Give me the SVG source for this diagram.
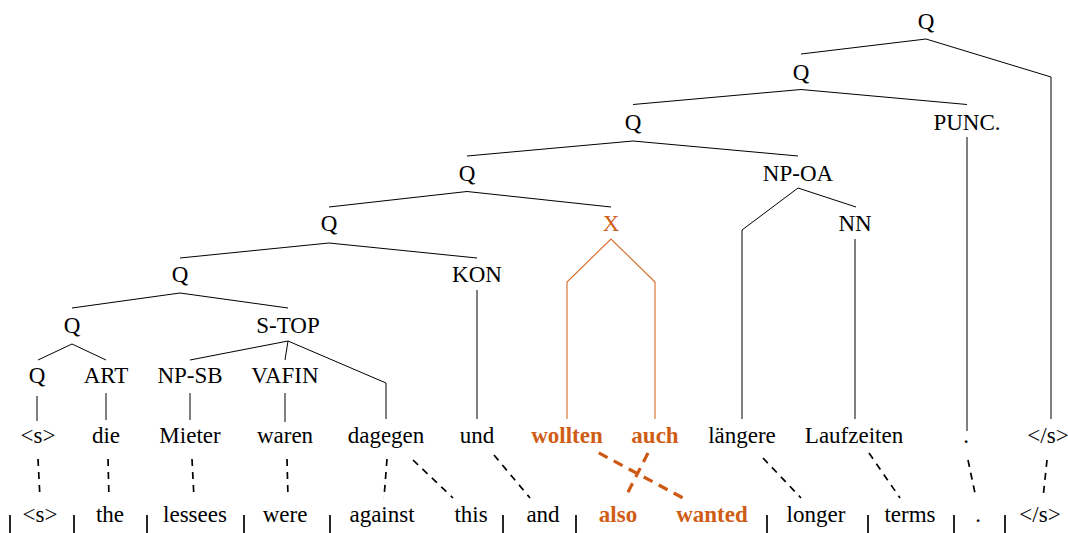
<svg xmlns="http://www.w3.org/2000/svg" width="1068" height="533" viewBox="0 0 1068 533" font-family="Liberation Serif, DejaVu Serif, serif">
<style>
text { font-size: 23px; text-anchor: middle; fill: #000; }
.hl { fill: #CF5D15; font-weight: bold; }
.xl { fill: #CF5D15; }
.edge { stroke: #000; stroke-width: 1; fill: none; }
.oedge { stroke: #D86A28; stroke-width: 1.1; fill: none; }
.al { stroke: #000; stroke-width: 1.7; stroke-dasharray: 7 6; fill: none; }
.oal { stroke: #CC5A14; stroke-width: 3.2; stroke-dasharray: 10 7; fill: none; }
.tick { stroke: #000; stroke-width: 1.7; }
</style>
<rect width="1068" height="533" fill="#fff"/>
<g id="connectors">
  <polyline class="edge" points="801,54 926,39 1051,77 1051,419"/>
  <polyline class="edge" points="633,104.5 801,89.5 967,104.5"/>
  <line class="edge" x1="967" y1="137" x2="967" y2="431"/>
  <polyline class="edge" points="467,156 633,141 798,156"/>
  <polyline class="edge" points="329,207 467,191.5 611,207"/>
  <polyline class="edge" points="742,419 742,230 798,188 856,207"/>
  <line class="edge" x1="855" y1="239" x2="855" y2="419"/>
  <polyline class="oedge" points="567,419 567,282 611,239 655,282 655,419"/>
  <polyline class="edge" points="180,258 329,243 477,258"/>
  <line class="edge" x1="477" y1="290" x2="477" y2="419"/>
  <polyline class="edge" points="72,308 180,293 288,308"/>
  <polyline class="edge" points="190,360 288,341 386,383 386,419"/>
  <line class="edge" x1="288" y1="341" x2="285" y2="360"/>
  <polyline class="edge" points="38,360 72,344 106,360"/>
  <line class="edge" x1="37" y1="396" x2="37" y2="421"/>
  <line class="edge" x1="106" y1="393" x2="106" y2="420"/>
  <line class="edge" x1="190" y1="393" x2="190" y2="420"/>
  <line class="edge" x1="285" y1="393" x2="285" y2="422"/>
  <line class="al" x1="38" y1="459" x2="40" y2="498"/>
  <line class="al" x1="108" y1="459" x2="109" y2="498"/>
  <line class="al" x1="192" y1="459" x2="194" y2="498"/>
  <line class="al" x1="287" y1="459" x2="288" y2="498"/>
  <line class="al" x1="387" y1="459" x2="384" y2="498"/>
  <line class="al" x1="413" y1="460" x2="453" y2="498"/>
  <line class="al" x1="494" y1="455" x2="530" y2="498"/>
  <line class="al" x1="763" y1="458" x2="801" y2="498"/>
  <line class="al" x1="869" y1="453" x2="900" y2="498"/>
  <line class="al" x1="968" y1="460" x2="976" y2="498"/>
  <line class="al" x1="1047" y1="460" x2="1043" y2="498"/>
  <line class="oal" x1="597" y1="452" x2="683" y2="498" stroke-dashoffset="15"/>
  <line class="oal" x1="648" y1="453" x2="625" y2="498"/>
  <line class="tick" x1="10" y1="515" x2="10" y2="533"/>
  <line class="tick" x1="74" y1="515" x2="74" y2="533"/>
  <line class="tick" x1="147" y1="515" x2="147" y2="533"/>
  <line class="tick" x1="244" y1="515" x2="244" y2="533"/>
  <line class="tick" x1="330" y1="515" x2="330" y2="533"/>
  <line class="tick" x1="503" y1="515" x2="503" y2="533"/>
  <line class="tick" x1="576" y1="515" x2="576" y2="533"/>
  <line class="tick" x1="767" y1="515" x2="767" y2="533"/>
  <line class="tick" x1="868" y1="515" x2="868" y2="533"/>
  <line class="tick" x1="954" y1="515" x2="954" y2="533"/>
  <line class="tick" x1="1005" y1="515" x2="1005" y2="533"/>
</g>
<g id="tree">
  <g id="n-q1"><text x="926" y="29">Q</text></g>
  <g id="n-q2"><text x="801" y="79.5">Q</text></g>
  <g id="n-q3"><text x="633" y="130">Q</text></g>
  <g id="n-punc"><text x="967" y="130">PUNC.</text></g>
  <g id="n-q4"><text x="467" y="180.5">Q</text></g>
  <g id="n-npoa"><text x="798" y="180.5">NP-OA</text></g>
  <g id="n-q5"><text x="329" y="231">Q</text></g>
  <g id="n-x"><text class="xl" x="611" y="231">X</text></g>
  <g id="n-nn"><text x="855" y="231">NN</text></g>
  <g id="n-q6"><text x="180" y="282">Q</text></g>
  <g id="n-kon"><text x="477" y="282">KON</text></g>
  <g id="n-q7"><text x="72" y="332.5">Q</text></g>
  <g id="n-stop"><text x="288" y="332.5">S-TOP</text></g>
  <g id="n-q8"><text x="37" y="383">Q</text></g>
  <g id="n-art"><text x="106" y="383">ART</text></g>
  <g id="n-npsb"><text x="190" y="383">NP-SB</text></g>
  <g id="n-vafin"><text x="285" y="383">VAFIN</text></g>
</g>
<g id="source">
  <g id="s0"><text x="38" y="443">&lt;s&gt;</text></g>
  <g id="s1"><text x="106" y="443">die</text></g>
  <g id="s2"><text x="190" y="443">Mieter</text></g>
  <g id="s3"><text x="285" y="443">waren</text></g>
  <g id="s4"><text x="386" y="443">dagegen</text></g>
  <g id="s5"><text x="477" y="443">und</text></g>
  <g id="s6"><text class="hl" x="567" y="443">wollten</text></g>
  <g id="s7"><text class="hl" x="655" y="443">auch</text></g>
  <g id="s8"><text x="742" y="443">längere</text></g>
  <g id="s9"><text x="854" y="443">Laufzeiten</text></g>
  <g id="s10"><text x="966" y="443">.</text></g>
  <g id="s11"><text x="1048" y="443">&lt;/s&gt;</text></g>
</g>
<g id="target">
  <g id="t0"><text x="40" y="522">&lt;s&gt;</text></g>
  <g id="t1"><text x="110" y="522">the</text></g>
  <g id="t2"><text x="195" y="522">lessees</text></g>
  <g id="t3"><text x="285" y="522">were</text></g>
  <g id="t4"><text x="382" y="522">against</text></g>
  <g id="t5"><text x="471" y="522">this</text></g>
  <g id="t6"><text x="543" y="522">and</text></g>
  <g id="t7"><text class="hl" x="618" y="522">also</text></g>
  <g id="t8"><text class="hl" x="712" y="522">wanted</text></g>
  <g id="t9"><text x="816" y="522">longer</text></g>
  <g id="t10"><text x="910" y="522">terms</text></g>
  <g id="t11"><text x="978" y="522">.</text></g>
  <g id="t12"><text x="1040" y="522">&lt;/s&gt;</text></g>
</g>
</svg>
